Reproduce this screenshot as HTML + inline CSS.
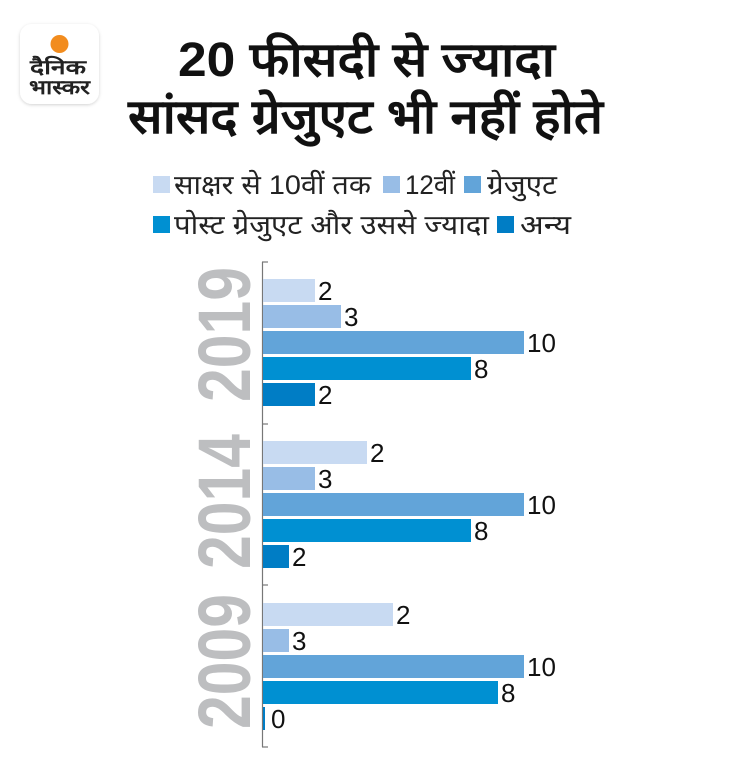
<!DOCTYPE html>
<html><head><meta charset="utf-8"><style>
html,body{margin:0;padding:0;background:#fff;}
svg{display:block;}
</style></head><body>
<svg width="730" height="781" viewBox="0 0 730 781" xmlns="http://www.w3.org/2000/svg">
<defs><filter id="sh" x="-20%" y="-20%" width="140%" height="140%"><feDropShadow dx="0" dy="1" stdDeviation="1.5" flood-color="#000" flood-opacity="0.18"/></filter></defs>
<rect x="20" y="24" width="79" height="80" rx="12" fill="#fff" filter="url(#sh)"/>
<circle cx="59.5" cy="44" r="9" fill="#f28c1e"/>
<text x="30" y="74" font-family="Liberation Sans, Noto Sans CJK SC, sans-serif" font-weight="bold" font-size="20" fill="#222" textLength="56" lengthAdjust="spacingAndGlyphs">दैनिक</text>
<text x="29" y="94" font-family="Liberation Sans, Noto Sans CJK SC, sans-serif" font-weight="bold" font-size="20" fill="#222" textLength="61" lengthAdjust="spacingAndGlyphs">भास्कर</text>
<g font-family="Liberation Sans, Noto Sans CJK SC, sans-serif" font-weight="bold" fill="#111">
<text x="178" y="76" font-size="48" textLength="377" lengthAdjust="spacingAndGlyphs">20 फीसदी से ज्यादा</text>
<text x="128" y="133" font-size="48" textLength="475" lengthAdjust="spacingAndGlyphs">सांसद ग्रेजुएट भी नहीं होते</text>
</g>
<g font-family="Liberation Sans, Noto Sans CJK SC, sans-serif" font-size="27" fill="#222">
<rect x="153" y="176" width="17" height="17" fill="#c8daf2"/><text x="174" y="194" textLength="197" lengthAdjust="spacingAndGlyphs">साक्षर से 10वीं तक</text>
<rect x="383" y="176" width="17" height="17" fill="#98bde6"/><text x="405" y="194" textLength="50" lengthAdjust="spacingAndGlyphs">12वीं</text>
<rect x="464" y="176" width="17" height="17" fill="#62a4d9"/><text x="487" y="194" textLength="70" lengthAdjust="spacingAndGlyphs">ग्रेजुएट</text>
<rect x="153" y="216" width="17" height="17" fill="#0090d2"/><text x="174" y="234" textLength="315" lengthAdjust="spacingAndGlyphs">पोस्ट ग्रेजुएट और उससे ज्यादा</text>
<rect x="497" y="216" width="17" height="17" fill="#007dc5"/><text x="520" y="234" textLength="51" lengthAdjust="spacingAndGlyphs">अन्य</text>
</g>
<g stroke="#777" stroke-width="1.2" fill="none">
<line x1="262.5" y1="262" x2="262.5" y2="747"/>
<line x1="262" y1="262" x2="268" y2="262"/>
<line x1="262" y1="424" x2="268" y2="424"/>
<line x1="262" y1="585" x2="268" y2="585"/>
<line x1="262" y1="747" x2="268" y2="747"/>
</g>
<g font-family="Liberation Sans, sans-serif" font-weight="bold" font-size="74" fill="#bdbec0">
<text transform="translate(250,402) rotate(-90)" textLength="135" lengthAdjust="spacingAndGlyphs">2019</text>
<text transform="translate(250,569) rotate(-90)" textLength="135" lengthAdjust="spacingAndGlyphs">2014</text>
<text transform="translate(250,729) rotate(-90)" textLength="135" lengthAdjust="spacingAndGlyphs">2009</text>
</g>
<g>
<rect x="263" y="279" width="52" height="23" fill="#c8daf2"/>
<rect x="263" y="305" width="78" height="23" fill="#98bde6"/>
<rect x="263" y="331" width="261" height="23" fill="#62a4d9"/>
<rect x="263" y="357" width="208" height="23" fill="#0090d2"/>
<rect x="263" y="383" width="52" height="23" fill="#007dc5"/>
<rect x="263" y="441" width="104" height="23" fill="#c8daf2"/>
<rect x="263" y="467" width="52" height="23" fill="#98bde6"/>
<rect x="263" y="493" width="261" height="23" fill="#62a4d9"/>
<rect x="263" y="519" width="208" height="23" fill="#0090d2"/>
<rect x="263" y="545" width="26" height="23" fill="#007dc5"/>
<rect x="263" y="603" width="130" height="23" fill="#c8daf2"/>
<rect x="263" y="629" width="26" height="23" fill="#98bde6"/>
<rect x="263" y="655" width="261" height="23" fill="#62a4d9"/>
<rect x="263" y="681" width="235" height="23" fill="#0090d2"/>
<rect x="263" y="707" width="2" height="23" fill="#007dc5"/>
</g>
<g font-family="Liberation Sans, sans-serif" font-size="26" fill="#111">
<text x="318" y="300">2</text><text x="344" y="326">3</text><text x="527" y="352">10</text><text x="474" y="378">8</text><text x="318" y="404">2</text>
<text x="370" y="462">2</text><text x="318" y="488">3</text><text x="527" y="514">10</text><text x="474" y="540">8</text><text x="292" y="566">2</text>
<text x="396" y="624">2</text><text x="292" y="650">3</text><text x="527" y="676">10</text><text x="501" y="702">8</text><text x="271" y="728">0</text>
</g>
</svg>
</body></html>
